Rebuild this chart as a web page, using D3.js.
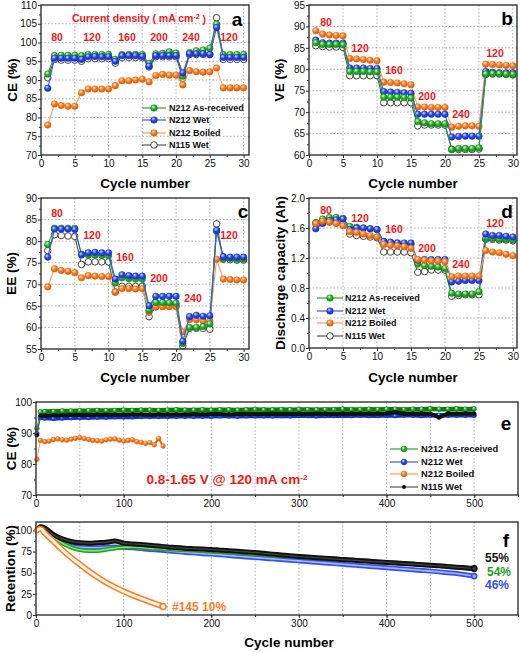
<!DOCTYPE html>
<html><head><meta charset="utf-8">
<script src="https://cdn.jsdelivr.net/npm/d3@7"></script>
<style>
body{margin:0;background:#fff}
svg{display:block;font-family:"Liberation Sans",Arial,sans-serif}
.grid{stroke:#9a9aa8;stroke-width:0.8;stroke-dasharray:1.5,2}
.tick line{stroke:#333}
.tick text{font-family:"Liberation Sans",Arial,sans-serif;font-size:10px;fill:#111}
</style>
</head><body><svg id="c" width="520" height="652"></svg>
<script>
// ---------------- DATA ----------------
const cycles = d3.range(1, 31);
const seriesNames = ["N212 As-received", "N212 Wet", "N212 Boiled", "N115 Wet"];
const rateLabels = ["80", "120", "160", "200", "240", "120"];

// (a) Coulombic efficiency %
const aGreen  = [91.6,96.5,96.6,96.6,96.6,96.5,96.8,96.8,96.8,96.8,95.5,96.8,96.8,96.8,96.8,94.4,97.0,97.1,97.5,97.2,91.0,97.3,97.8,98.0,98.5,104.9,96.8,96.8,96.8,96.8];
const aBlue   = [87.8,95.8,95.8,95.8,95.8,95.5,96.2,96.3,96.2,96.2,95.0,96.5,96.5,96.5,96.3,93.7,96.5,96.5,96.5,96.5,91.9,97.0,97.0,97.0,96.8,104.0,96.0,96.0,96.0,96.0];
const aOrange = [78.0,83.6,83.2,83.0,83.0,86.6,87.6,87.6,87.6,87.6,88.5,89.8,89.8,90.0,90.2,89.5,91.2,91.5,91.3,91.3,88.7,92.5,92.2,92.1,92.2,93.2,87.9,87.9,87.9,87.9];
const aBlack  = [90.6,95.5,95.3,95.3,95.3,95.0,95.7,95.7,95.7,95.7,94.5,96.0,96.0,96.0,96.0,93.5,96.2,96.2,96.2,96.2,90.5,96.8,96.8,96.8,96.8,106.6,95.5,95.5,95.5,95.5];

// (b) Voltage efficiency %
const bOrange = [89.0,88.2,88.0,87.9,87.8,82.5,82.4,82.3,82.1,82.0,77.0,76.9,76.8,76.6,76.4,71.2,71.2,71.1,71.1,71.1,66.5,66.7,66.8,66.8,66.7,81.2,81.1,81.0,80.9,80.8];
const bBlue   = [86.8,86.2,86.1,86.1,86.1,80.3,80.3,80.3,80.2,80.2,74.8,74.7,74.6,74.5,74.4,69.5,69.5,69.5,69.5,69.5,64.2,64.3,64.4,64.4,64.4,79.5,79.3,79.2,79.2,79.2];
const bGreen  = [86.2,85.8,85.8,85.8,85.7,79.5,79.5,79.5,79.4,79.4,73.5,73.5,73.5,73.4,73.3,67.8,67.5,67.3,67.3,67.3,61.3,61.5,61.5,61.5,61.7,78.9,79.0,79.0,78.9,78.8];
const bBlack  = [85.5,85.3,85.2,85.2,85.1,78.5,78.5,78.5,78.5,78.5,72.2,72.2,72.2,72.2,72.2,66.8,67.0,67.0,67.0,67.0,61.3,61.3,61.3,61.3,61.4,78.8,78.9,78.9,78.8,78.7];

// (c) Energy efficiency %
const cOrange = [69.4,73.6,73.2,73.0,72.7,71.5,72.0,71.9,71.8,71.8,68.2,69.0,69.0,68.9,69.0,63.5,64.8,64.8,64.8,64.8,59.0,61.8,61.8,61.5,61.5,75.8,71.2,71.1,71.0,71.0];
const cBlue   = [76.3,82.8,82.8,82.8,82.7,76.8,77.3,77.4,77.3,77.3,71.2,72.2,72.0,71.9,71.9,65.0,67.2,67.2,67.2,67.2,56.8,62.5,62.8,62.6,62.7,82.5,76.4,76.3,76.3,76.3];
const cGreen  = [79.2,83.0,83.0,83.0,83.0,77.0,76.8,76.8,76.7,76.6,70.3,71.5,71.3,71.2,71.2,64.0,65.8,65.8,65.7,65.6,56.3,60.0,60.0,60.2,60.8,82.3,76.0,76.0,75.8,75.8];
const cBlack  = [77.8,81.5,81.3,81.2,81.1,74.6,75.2,75.2,75.2,75.2,68.2,69.5,69.5,69.5,69.5,62.5,64.8,65.0,65.0,65.0,55.7,59.8,59.8,59.8,59.6,84.0,75.8,75.7,75.6,75.6];

// (d) Discharge capacity Ah
const dGreen  = [1.66,1.72,1.74,1.74,1.73,1.62,1.61,1.60,1.59,1.58,1.42,1.41,1.40,1.39,1.38,1.12,1.10,1.09,1.08,1.06,0.73,0.72,0.72,0.72,0.75,1.46,1.46,1.45,1.45,1.44];
const dBlue   = [1.59,1.66,1.70,1.71,1.72,1.58,1.60,1.60,1.59,1.58,1.42,1.41,1.40,1.40,1.40,1.17,1.18,1.18,1.18,1.18,0.88,0.89,0.90,0.90,0.90,1.52,1.50,1.50,1.49,1.48];
const dOrange = [1.66,1.69,1.68,1.66,1.63,1.55,1.54,1.52,1.50,1.48,1.38,1.37,1.36,1.35,1.33,1.18,1.17,1.16,1.16,1.15,0.95,0.96,0.96,0.96,0.96,1.30,1.28,1.27,1.25,1.23];
const dBlack  = [1.67,1.68,1.68,1.67,1.65,1.52,1.50,1.49,1.48,1.47,1.28,1.28,1.28,1.28,1.27,1.01,1.02,1.04,1.04,1.04,0.69,0.70,0.71,0.71,0.71,1.45,1.45,1.44,1.44,1.43];

// (e) long-term CE %, sampled cycles
const longCycles = [1, 5].concat(d3.range(10, 501, 10));
const boiledCycles = [1].concat(d3.range(5, 146, 5));
const eGreen = [91.5,96.8,96.9,97.0,97.1,97.1,97.2,97.2,97.3,97.2,
  97.3,97.4,97.3,97.4,97.4,97.3,97.4,97.5,97.4,97.4,
  97.5,97.4,97.5,97.5,97.4,97.5,97.6,97.5,97.5,97.6,
  97.5,97.6,97.6,97.5,97.6,97.6,97.7,97.6,97.6,97.7,
  97.6,97.7,97.7,97.6,97.7,97.7,97.8,97.7,97.7,97.8,
  97.7,97.8];
const eBlue = [89.8,95.0,94.8,94.7,94.8,94.9,95.0,95.0,95.1,95.1,
  95.2,95.2,95.2,95.3,95.3,95.3,95.3,95.4,95.4,95.4,
  95.4,95.4,95.5,95.5,95.4,95.5,95.5,95.5,95.5,95.6,
  95.5,95.6,95.6,95.5,95.6,95.6,95.6,95.6,95.7,95.6,
  95.6,95.7,95.6,95.7,95.7,95.6,95.7,95.7,95.7,95.7,
  95.7,95.7];
const eBlack = [89.3,95.6,95.6,95.7,95.7,95.8,95.8,95.8,95.9,95.9,
  95.9,95.9,96.0,96.0,95.9,96.0,96.0,96.0,96.0,96.1,
  96.0,96.1,96.1,96.0,96.1,96.1,96.1,96.1,96.2,96.1,
  96.1,96.2,96.1,96.2,96.2,96.1,96.2,96.2,96.2,96.2,
  96.2,96.3,96.7,96.2,96.2,96.3,96.2,95.0,96.3,96.2,
  96.3,96.3];
const eOrange = [81.5,87.6,87.2,87.4,87.9,88.1,87.8,87.7,88.0,88.3,
  88.5,88.2,87.9,87.6,87.5,87.4,87.8,88.0,88.1,87.7,
  87.4,87.6,87.8,87.2,87.0,86.6,86.9,86.2,88.2,85.8];

// (f) capacity retention %
const fBlack = [100,104.5,103,95,90,87,85.5,85,85.5,86,
  87.5,85,84,83.5,82.5,81.5,80.5,79.8,79,78.5,
  78,77.5,76.7,76,75.3,74.6,74,73,72,71,
  70,69.2,68.5,67.8,67,66.4,65.6,65,64.2,63.5,
  62.8,62.2,61.5,60.8,60.2,59.5,58.8,58.2,57.4,56.6,
  55.8,55];
const fGreen = [100,103,101,92,85,80,77,76,76,77.5,
  79,80,80.5,80,79,78.5,78,77.5,77,76.5,
  76,75.5,74.8,74,73.4,72.8,72.2,71.5,70.8,70.2,
  69.6,69,68.3,67.6,67,66.4,65.8,65.2,64.5,63.8,
  63.1,62.4,61.7,61,60.3,59.6,58.9,58.1,57.2,56.3,
  55.2,54];
const fBlue = [100,104,102,93,87,82,80,79.5,79.5,80,
  80.5,80,79.5,78.5,77.5,77,76,75,74,73.5,
  72.5,72,71.2,70.3,69.5,68.7,67.9,67.2,66.4,65.6,
  64.8,64,63.2,62.4,61.6,60.8,60,59.1,58.3,57.5,
  56.7,55.9,55.1,54.3,53.5,52.7,51.9,51,50,49,
  47.6,46];
const fOrangeCycles = [1,5,10,20,30,40,50,60,70,80,90,100,110,120,130,140,145];
const fOrange = [100,102,97,87,77,68,60,52,45,38.5,33,28,23.5,19.5,15.5,12,10];
const endLabels = ["55%", "54%", "46%", "#145 10%"];

// ---------------- DRAWING ----------------
const svg = d3.select("#c");
const defs = svg.append("defs");
function grad(id, base, light) {
  const g = defs.append("radialGradient").attr("id", id).attr("cx", "38%").attr("cy", "32%").attr("r", "68%");
  g.append("stop").attr("offset", "0%").attr("stop-color", light);
  g.append("stop").attr("offset", "50%").attr("stop-color", base);
  g.append("stop").attr("offset", "100%").attr("stop-color", d3.color(base).darker(0.7));
}
grad("gG", "#22b522", "#d8ffd8");
grad("gB", "#2244f5", "#d8ddff");
grad("gO", "#ff7a1a", "#ffe6cc");

const S = {
  g: {line: "#2f9e2f", fill: "url(#gG)", stroke: "#0f7a0f"},
  b: {line: "#3a5ad8", fill: "url(#gB)", stroke: "#1030b8"},
  o: {line: "#ff9a5a", fill: "url(#gO)", stroke: "#e86010"},
  k: {line: "#555555", fill: "#ffffff", stroke: "#333333"}
};
const RED = "#f01818";

function axes(p, x, y, o) {
  const g = svg.append("g");
  o.gridX.forEach(v => g.append("line").attr("class", "grid").attr("x1", x(v)).attr("x2", x(v)).attr("y1", p.t).attr("y2", p.b));
  (o.gridY || []).forEach(v => g.append("line").attr("class", "grid").attr("y1", y(v)).attr("y2", y(v)).attr("x1", p.l).attr("x2", p.r));
  g.append("g").attr("transform", `translate(0,${p.b})`)
    .call(d3.axisBottom(x).tickValues(o.xt).tickSizeInner(3).tickSizeOuter(0).tickPadding(2).tickFormat(d3.format("d")))
    .call(s => s.select(".domain").remove());
  g.append("g").attr("transform", `translate(0,${p.b})`)
    .call(d3.axisBottom(x).tickValues(o.xm).tickSizeInner(2).tickSizeOuter(0).tickFormat(""))
    .call(s => s.select(".domain").remove());
  g.append("g").attr("transform", `translate(${p.l},0)`)
    .call(d3.axisLeft(y).tickValues(o.yt).tickSizeInner(3).tickSizeOuter(0).tickPadding(1).tickFormat(o.yf))
    .call(s => s.select(".domain").remove());
  g.append("g").attr("transform", `translate(${p.l},0)`)
    .call(d3.axisLeft(y).tickValues(o.ym).tickSizeInner(2).tickSizeOuter(0).tickFormat(""))
    .call(s => s.select(".domain").remove());
  // titles
  svg.append("text").attr("transform", `translate(${o.ylx},${(p.t + p.b) / 2}) rotate(-90)`)
    .attr("text-anchor", "middle").attr("dy", "0.36em").attr("font-size", 13.5).attr("font-weight", "bold").text(o.ylab);
  if (o.xlab) svg.append("text").attr("x", o.xlab[0]).attr("y", o.xlab[1]).attr("dy", "0.36em")
    .attr("text-anchor", "middle").attr("font-size", 13.5).attr("font-weight", "bold").text("Cycle number");
}
function frame(p) {
  svg.append("rect").attr("x", p.l).attr("y", p.t).attr("width", p.r - p.l).attr("height", p.b - p.t)
    .attr("fill", "none").attr("stroke", "#333").attr("stroke-width", 1.4);
}
function letter(ch, xx, yy) {
  svg.append("text").attr("x", xx).attr("y", yy).attr("dy", "0.36em").attr("text-anchor", "middle")
    .attr("font-size", 19).attr("font-weight", "bold").text(ch);
}
function redText(t, xx, yy, fs) {
  svg.append("text").attr("x", xx).attr("y", yy).attr("dy", "0.36em").attr("text-anchor", "middle")
    .attr("font-size", fs || 10.5).attr("font-weight", "bold").attr("fill", RED).text(t);
}
function marker(sel, key, r) {
  sel.attr("r", r).attr("fill", S[key].fill).attr("stroke", S[key].stroke).attr("stroke-width", key === "k" ? 0.9 : 0.5);
}
function series(x, y, xs, vals, key, r) {
  const pts = xs.map((c, i) => [c, vals[i]]);
  const line = d3.line().x(d => x(d[0])).y(d => y(d[1]));
  svg.append("path").attr("d", line(pts)).attr("fill", "none").attr("stroke", S[key].line).attr("stroke-width", 1.1);
  svg.append("g").selectAll("circle").data(pts).join("circle")
    .attr("cx", d => x(d[0])).attr("cy", d => y(d[1])).call(marker, key, r);
}
function legend(xl1, xl2, xt, rows, fs, r, keys, dots) {
  keys.forEach((k, i) => {
    svg.append("line").attr("x1", xl1).attr("x2", xl2).attr("y1", rows[i]).attr("y2", rows[i])
      .attr("stroke", S[k].line).attr("stroke-width", 1.2);
    const c = svg.append("circle").attr("cx", (xl1 + xl2) / 2).attr("cy", rows[i]);
    if (dots && k === "k") c.attr("r", 2).attr("fill", "#111");
    else c.call(marker, k, r);
    svg.append("text").attr("x", xt).attr("y", rows[i]).attr("dy", "0.36em").attr("font-size", fs)
      .attr("font-weight", "bold").attr("fill", "#111").text(seriesNames[i]);
  });
}

const R = 3.3;
const xTicks = d3.range(0, 31, 5), xMinor = d3.range(2.5, 31, 5), xGrid = d3.range(5, 31, 5);

// ---- panel a ----
(function () {
  const p = {l: 41, r: 249, t: 5, b: 155};
  const x = d3.scaleLinear().domain([0, 30.8]).range([p.l, p.r]);
  const y = d3.scaleLinear().domain([70, 110]).range([p.b, p.t]);
  axes(p, x, y, {gridX: xGrid, gridY: d3.range(75, 110, 5), xt: xTicks, xm: xMinor,
    yt: d3.range(70, 111, 5), ym: d3.range(72.5, 110, 5), yf: d3.format("d"), ylab: "CE (%)", ylx: 12, xlab: [145, 183]});
  series(x, y, cycles, aBlack, "k", R);
  series(x, y, cycles, aOrange, "o", R);
  series(x, y, cycles, aGreen, "g", R);
  series(x, y, cycles, aBlue, "b", R);
  frame(p);
  const t = svg.append("text").attr("x", 139).attr("y", 18).attr("dy", "0.36em").attr("text-anchor", "middle")
    .attr("font-size", 10.5).attr("font-weight", "bold").attr("fill", RED);
  t.append("tspan").text("Current density ( mA cm");
  t.append("tspan").attr("dy", "-0.45em").attr("font-size", 7).text("-2");
  t.append("tspan").attr("dy", "0.45em").text(" )");
  [[57, 37], [92, 37], [127, 37], [159, 37], [191, 37], [229, 37]].forEach((q, i) => redText(rateLabels[i], q[0], q[1]));
  letter("a", 237, 19);
  legend(142, 166, 169, [108, 120, 133, 145], 9, R, ["g", "b", "o", "k"]);
})();

// ---- panel b ----
(function () {
  const p = {l: 309, r: 517, t: 5, b: 155};
  const x = d3.scaleLinear().domain([0, 30.6]).range([p.l, p.r]);
  const y = d3.scaleLinear().domain([60, 95]).range([p.b, p.t]);
  axes(p, x, y, {gridX: xGrid, gridY: d3.range(65, 95, 5), xt: xTicks, xm: xMinor,
    yt: d3.range(60, 96, 5), ym: d3.range(62.5, 95, 5), yf: d3.format("d"), ylab: "VE (%)", ylx: 279, xlab: [413, 183]});
  series(x, y, cycles, bBlack, "k", R);
  series(x, y, cycles, bOrange, "o", R);
  series(x, y, cycles, bBlue, "b", R);
  series(x, y, cycles, bGreen, "g", R);
  frame(p);
  [[326, 22], [360, 48], [394, 70], [427, 96], [461, 114], [495, 53]].forEach((q, i) => redText(rateLabels[i], q[0], q[1]));
  letter("b", 507, 18);
})();

// ---- panel c ----
(function () {
  const p = {l: 41, r: 249, t: 198, b: 349};
  const x = d3.scaleLinear().domain([0, 30.8]).range([p.l, p.r]);
  const y = d3.scaleLinear().domain([55, 90]).range([p.b, p.t]);
  axes(p, x, y, {gridX: xGrid, gridY: d3.range(60, 90, 5), xt: xTicks, xm: xMinor,
    yt: d3.range(55, 91, 5), ym: d3.range(57.5, 90, 5), yf: d3.format("d"), ylab: "EE (%)", ylx: 11, xlab: [145, 377]});
  series(x, y, cycles, cBlack, "k", R);
  series(x, y, cycles, cOrange, "o", R);
  series(x, y, cycles, cGreen, "g", R);
  series(x, y, cycles, cBlue, "b", R);
  frame(p);
  [[57, 213], [92, 235], [125, 257], [159, 278], [193, 298], [229, 235]].forEach((q, i) => redText(rateLabels[i], q[0], q[1]));
  letter("c", 243, 211);
})();

// ---- panel d ----
(function () {
  const p = {l: 309, r: 517, t: 198, b: 348};
  const x = d3.scaleLinear().domain([0, 30.6]).range([p.l, p.r]);
  const y = d3.scaleLinear().domain([0, 2.0]).range([p.b, p.t]);
  axes(p, x, y, {gridX: xGrid, gridY: [0.4, 0.8, 1.2, 1.6], xt: xTicks, xm: xMinor,
    yt: [0, 0.4, 0.8, 1.2, 1.6, 2.0], ym: [0.2, 0.6, 1.0, 1.4, 1.8], yf: d3.format(".1f"), ylab: "Discharge capacity (Ah)", ylx: 280, xlab: [413, 377]});
  series(x, y, cycles, dBlack, "k", R);
  series(x, y, cycles, dGreen, "g", R);
  series(x, y, cycles, dBlue, "b", R);
  series(x, y, cycles, dOrange, "o", R);
  frame(p);
  [[326, 210], [360, 218], [394, 229], [427, 248], [461, 264], [495, 223]].forEach((q, i) => redText(rateLabels[i], q[0], q[1]));
  letter("d", 507, 211);
  legend(317, 343, 345, [298, 311, 323, 336], 9, R, ["g", "b", "o", "k"]);
})();

// ---- panel e ----
(function () {
  const p = {l: 36, r: 518, t: 402, b: 495};
  const x = d3.scaleLinear().domain([0, 550]).range([p.l, p.r]);
  const y = d3.scaleLinear().domain([70, 100]).range([p.b, p.t]);
  axes(p, x, y, {gridX: d3.range(50, 501, 50), xt: d3.range(0, 501, 100), xm: d3.range(50, 551, 50),
    yt: [70, 80, 90, 100], ym: [75, 85, 95], yf: d3.format("d"), ylab: "CE (%)", ylx: 11, xlab: null});
  const band = (xs, vals, key, w, r, dot) => {
    const pts = xs.map((c, i) => [c, vals[i]]);
    const line = d3.line().x(d => x(d[0])).y(d => y(d[1]));
    svg.append("path").attr("d", line(pts.slice(1))).attr("fill", "none").attr("stroke", dot ? "#111" : S[key].stroke).attr("stroke-width", w).attr("stroke-linejoin", "round");
    svg.append("path").attr("d", line(pts.slice(0, 2))).attr("fill", "none").attr("stroke", S[key].line).attr("stroke-width", 1);
    svg.append("g").selectAll("circle").data(pts).join("circle")
      .attr("cx", d => x(d[0])).attr("cy", d => y(d[1]))
      .each(function () { const s = d3.select(this); if (dot) s.attr("r", r).attr("fill", "#111"); else s.call(marker, key, r); });
  };
  band(longCycles, eGreen, "g", 4.5, 2.4);
  band(longCycles, eBlue, "b", 4.5, 2.4);
  band(longCycles, eBlack, "k", 4, 2.2, true);
  band(boiledCycles, eOrange, "o", 2, 2.4);
  frame(p);
  letter("e", 506, 423);
  legend(390, 418, 421, [449, 462, 474, 487], 9.3, 2.9, ["g", "b", "o", "k"], true);
  const t = svg.append("text").attr("x", 227).attr("y", 479).attr("dy", "0.36em").attr("text-anchor", "middle")
    .attr("font-size", 13.5).attr("font-weight", "bold").attr("fill", RED);
  t.append("tspan").text("0.8-1.65 V @ 120 mA cm");
  t.append("tspan").attr("dy", "-0.45em").attr("font-size", 8).text("-2");
})();

// ---- panel f ----
(function () {
  const p = {l: 36, r: 518, t: 522, b: 615};
  const x = d3.scaleLinear().domain([0, 550]).range([p.l, p.r]);
  const y = d3.scaleLinear().domain([0, 110]).range([p.b, p.t]);
  axes(p, x, y, {gridX: d3.range(50, 501, 50), xt: d3.range(0, 501, 100), xm: d3.range(50, 551, 50),
    yt: [0, 25, 50, 75, 100], ym: [12.5, 37.5, 62.5, 87.5], yf: d3.format("d"), ylab: "Retention (%)", ylx: 10, xlab: [289, 642]});
  const tube = (xs, vals, key, color, w, inner, innerColor) => {
    const pts = xs.map((c, i) => [c, vals[i]]);
    const line = d3.line().x(d => x(d[0])).y(d => y(d[1])).curve(d3.curveMonotoneX);
    svg.append("path").attr("d", line(pts)).attr("fill", "none").attr("stroke", color).attr("stroke-width", w).attr("stroke-linecap", "round");
    svg.append("path").attr("d", line(pts)).attr("fill", "none").attr("stroke", innerColor).attr("stroke-width", inner).attr("stroke-linecap", "round");
    const last = pts[pts.length - 1];
    svg.append("circle").attr("cx", x(last[0])).attr("cy", y(last[1])).attr("r", w / 2).attr("fill", innerColor).attr("stroke", color).attr("stroke-width", (w - inner) / 2);
  };
  tube(longCycles, fBlue, "b", "#3550f0", 5, 1.6, "#a8b8ff");
  tube(longCycles, fGreen, "g", "#1ea01e", 4.5, 1.4, "#90e090");
  tube(longCycles, fBlack, "k", "#111", 5, 1.2, "#444");
  tube(fOrangeCycles, fOrange, "o", "#ff7a1a", 6, 3, "#fff2e6");
  frame(p);
  letter("f", 506, 540);
  const lab = (t, xx, yy, c) => svg.append("text").attr("x", xx).attr("y", yy).attr("dy", "0.36em")
    .attr("font-size", 12).attr("font-weight", "bold").attr("fill", c).text(t);
  lab(endLabels[0], 485, 558, "#111");
  lab(endLabels[1], 487, 572, "#1ea01e");
  lab(endLabels[2], 485, 585, "#3550f0");
  lab(endLabels[3], 172, 607, "#ff7a1a");
})();
</script>
</body></html>
